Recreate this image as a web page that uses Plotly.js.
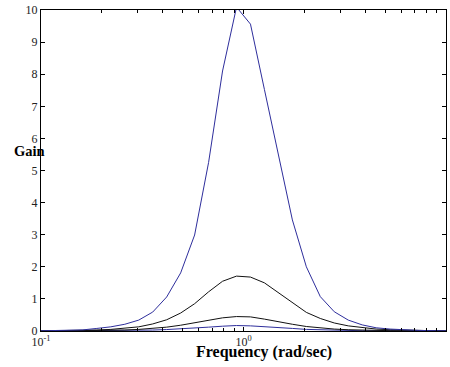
<!DOCTYPE html>
<html>
<head>
<meta charset="utf-8">
<script src="https://cdn.plot.ly/plotly-3.0.1.min.js"></script>
<style>html,body{margin:0;padding:0;background:#fff;}#chart{width:450px;height:367px;}</style>
</head>
<body>
<div id="chart"></div>
<script>
// Frequency grid (rad/sec)
var freq = [0.1, 0.1172, 0.1374, 0.1610, 0.1887, 0.2212, 0.2593, 0.3039, 0.3562, 0.4175,
            0.4894, 0.5736, 0.6723, 0.7880, 0.9237, 1.0826, 1.2690, 1.4874, 1.7433, 2.0434,
            2.3950, 2.8072, 3.2903, 3.8566, 4.5204, 5.2983, 6.2102, 7.2790, 8.5317, 10.0];

// Gain curves
var gainBlueHigh = [0.005, 0.01, 0.02, 0.035, 0.08, 0.13, 0.21, 0.34, 0.59, 1.06,
                    1.81, 2.99, 5.25, 8.1, 10.09, 9.56, 7.52, 5.48, 3.46, 2.0,
                    1.07, 0.6, 0.34, 0.19, 0.1, 0.06, 0.035, 0.02, 0.01, 0.005];
var gainBlackHigh = [0.004, 0.007, 0.012, 0.02, 0.03, 0.05, 0.08, 0.13, 0.22, 0.35,
                     0.56, 0.85, 1.22, 1.55, 1.71, 1.68, 1.5, 1.19, 0.87, 0.58,
                     0.39, 0.25, 0.16, 0.1, 0.06, 0.04, 0.025, 0.015, 0.01, 0.006];
var gainBlackLow = [0.002, 0.004, 0.006, 0.01, 0.015, 0.02, 0.03, 0.05, 0.08, 0.12,
                    0.18, 0.25, 0.33, 0.41, 0.45, 0.44, 0.37, 0.28, 0.21, 0.14,
                    0.09, 0.06, 0.04, 0.025, 0.015, 0.01, 0.006, 0.004, 0.002, 0.001];
var gainBlueLow = [0.001, 0.002, 0.003, 0.004, 0.006, 0.008, 0.012, 0.02, 0.03, 0.045,
                   0.065, 0.09, 0.12, 0.15, 0.17, 0.16, 0.14, 0.11, 0.08, 0.05,
                   0.035, 0.02, 0.012, 0.008, 0.005, 0.003, 0.002, 0.001, 0.001, 0.0005];

var xTickVals = [0.1, 1, 10];
var xTickText = ['10<sup>-1</sup>', '10<sup>0</sup>', '10<sup>1</sup>'];
var xMinorVals = [0.2, 0.3, 0.4, 0.5, 0.6, 0.7, 0.8, 0.9, 2, 3, 4, 5, 6, 7, 8, 9];
var yTickVals = [0, 1, 2, 3, 4, 5, 6, 7, 8, 9, 10];

var BLUE = '#2e2e9c';
var BLACK = '#111111';
var FONT = 'Liberation Serif, Times New Roman, serif';

function line(y, color) {
  return {x: freq, y: y, type: 'scatter', mode: 'lines',
          line: {color: color, width: 1}, hoverinfo: 'skip', showlegend: false};
}

var data = [
  line(gainBlueLow, BLUE),
  line(gainBlackLow, BLACK),
  line(gainBlackHigh, BLACK),
  line(gainBlueHigh, BLUE),
  // carrier for the minor-tick overlay axis (no visible marks)
  {x: [xMinorVals[0]], y: [null], xaxis: 'x2', type: 'scatter', mode: 'lines',
   hoverinfo: 'skip', showlegend: false}
];

var axisCommon = {
  showgrid: false, zeroline: false, showline: true, linecolor: '#000', linewidth: 1,
  mirror: 'ticks', ticks: 'inside', ticklen: 4, tickcolor: '#000', tickwidth: 1,
  tickfont: {family: FONT, size: 12, color: '#222'}
};

var layout = {
  width: 450, height: 367,
  margin: {l: 41, r: 4, t: 10, b: 36},
  paper_bgcolor: '#fff', plot_bgcolor: '#fff',
  font: {family: FONT, color: '#000'},
  xaxis: Object.assign({}, axisCommon, {
    type: 'log', range: [-1, 1], tickmode: 'array', tickvals: xTickVals, ticktext: xTickText,
    ticklabelstandoff: 0
  }),
  xaxis2: {
    type: 'log', range: [-1, 1], overlaying: 'x', anchor: 'y', side: 'bottom',
    tickmode: 'array', tickvals: xMinorVals, showticklabels: false,
    ticks: 'inside', ticklen: 3, tickcolor: '#000', tickwidth: 1,
    showline: false, mirror: 'ticks', showgrid: false, zeroline: false
  },
  yaxis: Object.assign({}, axisCommon, {
    range: [0, 10], tickmode: 'array', tickvals: yTickVals, ticklabelstandoff: 0
  }),
  annotations: [
    {text: '<b>Gain</b>', xref: 'paper', yref: 'paper', x: -0.072, y: 0.561,
     xanchor: 'left', yanchor: 'middle', showarrow: false,
     font: {family: FONT, size: 14.5, color: '#000'}},
    {text: '<b>Frequency (rad/sec)</b>', xref: 'paper', yref: 'paper', x: 0.551, y: -0.066,
     xanchor: 'center', yanchor: 'middle', showarrow: false,
     font: {family: FONT, size: 16, color: '#000'}}
  ]
};

Plotly.newPlot('chart', data, layout, {staticPlot: true, displayModeBar: false});
</script>
</body>
</html>
